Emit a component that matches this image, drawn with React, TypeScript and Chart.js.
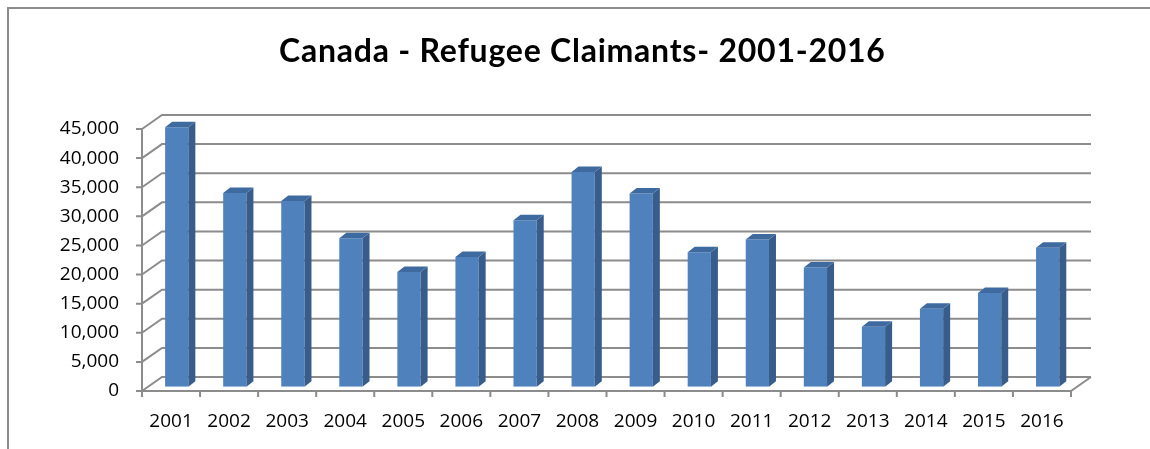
import { useEffect, useRef } from 'react';
import { Chart, registerables } from 'chart.js';

Chart.register(...registerables);

const years = ['2001', '2002', '2003', '2004', '2005', '2006', '2007', '2008', '2009', '2010', '2011', '2012', '2013', '2014', '2015', '2016'];
const claimants = [44600, 33300, 31900, 25500, 19700, 22300, 28600, 36900, 33200, 23100, 25300, 20500, 10300, 13400, 16100, 23900];
const yMin = 0;
const yMax = 45000;
const yStep = 5000;
const titleText = 'Canada - Refugee Claimants- 2001-2016';

const FRONT = '#4f81bd';
const SIDE = '#385d8a';
const TOP = '#3f6aa0';
const GRID = '#8c8c8c';
const FRAME = '#8c8c8c';

const WALL_DX = 20;
const WALL_DY = -14;
const BAR_SHIFT_X = 5.7;
const BAR_SHIFT_Y = -4.2;
const BAR_DEPTH_X = 7;
const BAR_DEPTH_Y = -5.5;

const TITLE_CX = 582;
const TITLE_BASELINE = 62.3;
const TITLE_WIDTH = 606;

const threeD = {
  id: 'threeD',
  beforeDatasetsDraw(chart: any) {
    const { ctx, chartArea: a, scales } = chart;
    const x = scales.x;
    const y = scales.y;
    ctx.save();
    ctx.strokeStyle = GRID;
    ctx.lineWidth = 2;
    ctx.beginPath();
    for (const t of y.ticks) {
      const py = y.getPixelForValue(t.value);
      ctx.moveTo(a.left, py);
      ctx.lineTo(a.left + WALL_DX, py + WALL_DY);
      ctx.lineTo(a.right + WALL_DX, py + WALL_DY);
      ctx.moveTo(a.left - 6, py);
      ctx.lineTo(a.left, py);
    }
    ctx.moveTo(a.left, y.getPixelForValue(yMax));
    ctx.lineTo(a.left, a.bottom);
    ctx.moveTo(a.left, a.bottom);
    ctx.lineTo(a.right, a.bottom);
    ctx.lineTo(a.right + WALL_DX, a.bottom + WALL_DY);
    const n = x.ticks.length;
    for (let i = 0; i <= n; i++) {
      const px = x.getPixelForValue(i - 0.5);
      ctx.moveTo(px, a.bottom);
      ctx.lineTo(px, a.bottom + 6);
    }
    ctx.stroke();
    ctx.restore();
    ctx.save();
    ctx.translate(BAR_SHIFT_X, BAR_SHIFT_Y);
  },
  afterDatasetsDraw(chart: any) {
    const ctx = chart.ctx;
    ctx.restore();
    const meta = chart.getDatasetMeta(0);
    meta.data.forEach((bar: any) => {
      const { x, y, base, width } = bar.getProps(['x', 'y', 'base', 'width'], true);
      const l = x - width / 2 + BAR_SHIFT_X;
      const r = x + width / 2 + BAR_SHIFT_X;
      const t = y + BAR_SHIFT_Y;
      const b = base + BAR_SHIFT_Y;
      ctx.save();
      ctx.fillStyle = SIDE;
      ctx.beginPath();
      ctx.moveTo(r, t);
      ctx.lineTo(r + BAR_DEPTH_X, t + BAR_DEPTH_Y);
      ctx.lineTo(r + BAR_DEPTH_X, b + BAR_DEPTH_Y);
      ctx.lineTo(r, b);
      ctx.closePath();
      ctx.fill();
      ctx.fillStyle = TOP;
      ctx.beginPath();
      ctx.moveTo(l, t);
      ctx.lineTo(l + BAR_DEPTH_X, t + BAR_DEPTH_Y);
      ctx.lineTo(r + BAR_DEPTH_X, t + BAR_DEPTH_Y);
      ctx.lineTo(r, t);
      ctx.closePath();
      ctx.fill();
      ctx.restore();
    });
  },
  afterDraw(chart: any) {
    const ctx = chart.ctx;
    ctx.save();
    ctx.strokeStyle = FRAME;
    ctx.lineWidth = 2;
    ctx.beginPath();
    ctx.moveTo(8, chart.height);
    ctx.lineTo(8, 8);
    ctx.lineTo(chart.width, 8);
    ctx.stroke();
    ctx.fillStyle = '#000';
    ctx.font = 'bold 32px Lato';
    ctx.textAlign = 'center';
    ctx.textBaseline = 'alphabetic';
    const w = ctx.measureText(titleText).width;
    const spacing = Math.max(0, Math.min(3, (TITLE_WIDTH - w) / (titleText.length - 1)));
    (ctx as any).letterSpacing = spacing.toFixed(2) + 'px';
    ctx.fillText(titleText, TITLE_CX + spacing / 2, TITLE_BASELINE);
    ctx.restore();
  },
};

export default function App() {
  const ref = useRef<HTMLCanvasElement | null>(null);
  useEffect(() => {
    if (!ref.current) return;
    const tickFont = { family: 'Open Sans', size: 19 };
    const chart = new Chart(ref.current, {
      type: 'bar',
      data: {
        labels: years,
        datasets: [
          {
            data: claimants,
            backgroundColor: FRONT,
            borderWidth: 0,
            categoryPercentage: 1,
            barPercentage: 0.4,
          },
        ],
      },
      options: {
        responsive: true,
        maintainAspectRatio: false,
        animation: false,
        layout: { padding: { left: 0, top: 129, right: 79, bottom: 0 } },
        plugins: {
          legend: { display: false },
          tooltip: { enabled: false },
          title: { display: false },
        },
        scales: {
          x: {
            grid: { display: false, drawTicks: false },
            border: { display: false },
            ticks: { color: '#000', font: tickFont, padding: 19, maxRotation: 0, autoSkip: false },
            afterFit: (s: any) => {
              s.height = 58;
            },
          },
          y: {
            min: yMin,
            max: yMax,
            grid: { display: false, drawTicks: false },
            border: { display: false },
            ticks: {
              stepSize: yStep,
              color: '#000',
              font: tickFont,
              padding: 23,
              callback: (v: any) => Number(v).toLocaleString('en-US'),
            },
            afterFit: (s: any) => {
              s.width = 142;
            },
          },
        },
      },
      plugins: [threeD],
    });
    return () => chart.destroy();
  }, []);
  return (
    <div style={{ position: 'absolute', left: 0, top: 0, width: 1150, height: 449, background: '#fff' }}>
      <canvas ref={ref} />
    </div>
  );
}
